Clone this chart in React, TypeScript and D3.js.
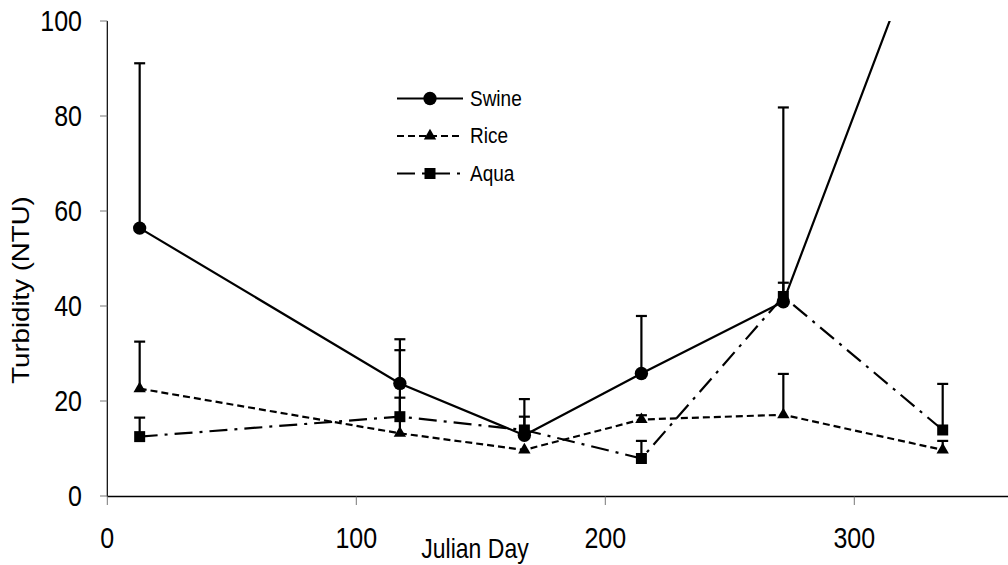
import React from 'react';
import * as d3 from 'd3';

// Julian day of each sampling
const days = [13, 117.5, 167.5, 214.5, 271.5, 335.5];

// Turbidity means and upper error (NTU)
const swine = [56.4, 23.7, 12.8, 25.8, 40.9, 129.5];
const swineErr = [34.7, 9.3, 7.6, 12.1, 40.9, 0];
const rice = [22.6, 13.2, 9.7, 16.1, 17.1, 9.7];
const riceErr = [9.9, 17.5, 0, 0.9, 8.6, 1.9];
const aqua = [12.5, 16.7, 13.9, 7.9, 42.0, 13.9];
const aquaErr = [4.0, 4.0, 2.8, 3.7, 2.9, 9.7];

const xTicks = [0, 100, 200, 300];
const yTicks = [0, 20, 40, 60, 80, 100];

const W = 1008;
const H = 565;
const FONT = '"Liberation Sans", Arial, sans-serif';
const STRETCH = 1.2;

const x = d3.scaleLinear().domain([0, 400]).range([107.3, 1103.3]);
const y = d3.scaleLinear().domain([0, 100]).range([496, 21]);

const series = [
  { name: 'Swine', values: swine, err: swineErr, dash: null, marker: 'circle' },
  { name: 'Rice', values: rice, err: riceErr, dash: '7,4', marker: 'triangle' },
  { name: 'Aqua', values: aqua, err: aquaErr, dash: '18,7,3,7', marker: 'square' },
];

const markerPath = (kind: string) => {
  if (kind === 'circle') return d3.symbol(d3.symbolCircle, 140)();
  if (kind === 'triangle') return d3.symbol(d3.symbolTriangle, 66)();
  return d3.symbol(d3.symbolSquare, 121)();
};

const App = () => {
  const line = d3.line<number>()
    .x((_, i) => x(days[i]))
    .y(d => y(d));

  return (
    <svg width={W} height={H} style={{ position: 'absolute', left: 0, top: 0, background: '#fff' }}
      fontFamily={FONT}>
      <defs>
        <clipPath id="plot">
          <rect x={107} y={21} width={W - 107} height={476} />
        </clipPath>
      </defs>

      {/* axes */}
      <line x1={107.3} x2={107.3} y1={21} y2={496.5} stroke="#000" strokeWidth={1.2} />
      <line x1={107.3} x2={W} y1={496.5} y2={496.5} stroke="#000" strokeWidth={1.5} />
      {yTicks.map(t => (
        <g key={'y' + t}>
          <line x1={100} x2={107.3} y1={y(t)} y2={y(t)} stroke="#777" strokeWidth={1} />
          <text transform={`translate(82,${y(t) + 10}) scale(1,${STRETCH})`} fontSize={25}
            textAnchor="end">{t}</text>
        </g>
      ))}
      {xTicks.map(t => (
        <g key={'x' + t}>
          <line x1={x(t)} x2={x(t)} y1={496.5} y2={505} stroke="#777" strokeWidth={1} />
          <text transform={`translate(${x(t)},548) scale(1,${STRETCH})`} fontSize={25}
            textAnchor="middle">{t}</text>
        </g>
      ))}
      <text transform={`translate(475,558) scale(1,${STRETCH})`} fontSize={23}
        textAnchor="middle">Julian Day</text>
      <text transform={`translate(28.5,290) scale(1,${STRETCH}) rotate(-90)`} fontSize={23}
        textAnchor="middle">Turbidity (NTU)</text>

      {/* series */}
      <g clipPath="url(#plot)">
        {series.map(s => (
          <g key={s.name}>
            <path d={line(s.values) || ''} fill="none" stroke="#000" strokeWidth={2.2}
              strokeDasharray={s.dash || undefined} />
            {s.values.map((v, i) => s.err[i] > 0 ? (
              <g key={i} stroke="#000" strokeWidth={2.2}>
                <line x1={x(days[i])} x2={x(days[i])} y1={y(v)} y2={y(v + s.err[i])} />
                <line x1={x(days[i]) - 5.5} x2={x(days[i]) + 5.5}
                  y1={y(v + s.err[i])} y2={y(v + s.err[i])} />
              </g>
            ) : null)}
            {s.values.map((v, i) => (
              <path key={'m' + i} d={markerPath(s.marker) || ''}
                transform={`translate(${x(days[i])},${y(v)})`} fill="#000" />
            ))}
          </g>
        ))}
      </g>

      {/* legend */}
      {series.map((s, i) => {
        const ly = 98.5 + i * 37.5;
        return (
          <g key={'lg' + s.name}>
            <line x1={397} x2={463} y1={ly} y2={ly} stroke="#000" strokeWidth={2}
              strokeDasharray={s.dash || undefined} />
            <path d={markerPath(s.marker) || ''} transform={`translate(430,${ly})`} fill="#000" />
            <text transform={`translate(470,${ly + 7}) scale(1,${STRETCH})`} fontSize={19}>{s.name}</text>
          </g>
        );
      })}
    </svg>
  );
};

export default App;
